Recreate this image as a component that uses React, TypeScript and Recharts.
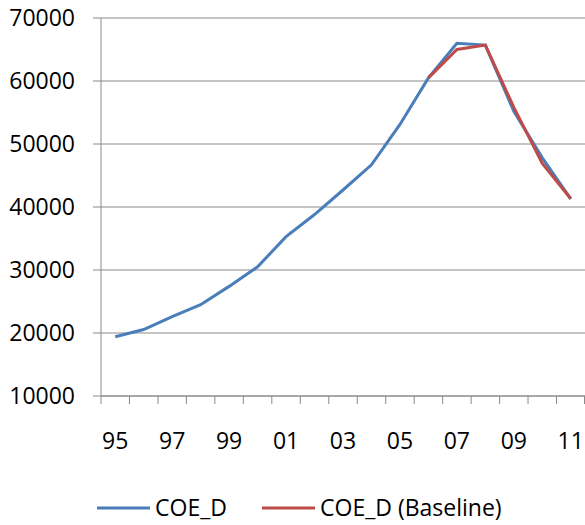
import React from 'react';
import { LineChart, Line, XAxis, YAxis, CartesianGrid, Legend } from 'recharts';

const years = ['95', '96', '97', '98', '99', '00', '01', '02', '03', '04', '05', '06', '07', '08', '09', '10', '11'];
const coeD = [19400, 20550, 22600, 24500, 27400, 30500, 35300, 38800, 42700, 46700, 53100, 60500, 66000, 65700, 55200, 47800, 41300];
const coeDBaseline = [null, null, null, null, null, null, null, null, null, null, null, 60500, 65000, 65700, 55800, 46900, 41300];
const yTicks = [10000, 20000, 30000, 40000, 50000, 60000, 70000];

const data = years.map((y, i) => ({ year: y, coeD: coeD[i], baseline: coeDBaseline[i] }));

const W = 585;
const H = 525;
const Y_AXIS_W = 101;
const GRID = '#8a8a8a';
const BLUE = '#4a7ebb';
const RED = '#be4b48';
const FONT = '"Open Sans", sans-serif';
const FS = 23;

const band = (W - Y_AXIS_W) / years.length;

const XTick = (props: any) => {
  const { x, y, payload, index } = props;
  const left = x - band / 2;
  const right = x + band / 2;
  return (
    <g>
      <line x1={left} y1={y} x2={left} y2={y + 8} stroke={GRID} strokeWidth={1} />
      {index === years.length - 1 && (
        <line x1={right - 0.5} y1={y} x2={right - 0.5} y2={y + 8} stroke={GRID} strokeWidth={1} />
      )}
      {index % 2 === 0 && (
        <text x={x} y={y + 53} textAnchor="middle" fill="#000" fontSize={FS} fontFamily={FONT}>
          {payload.value}
        </text>
      )}
    </g>
  );
};

const LegendContent = () => {
  const items = [
    { label: 'COE_D', color: BLUE, x: 97 },
    { label: 'COE_D (Baseline)', color: RED, x: 262 },
  ];
  return (
    <svg width={W} height={40} style={{ display: 'block' }}>
      {items.map((it) => (
        <g key={it.label}>
          <line x1={it.x} y1={23} x2={it.x + 53} y2={23} stroke={it.color} strokeWidth={3} />
          <text x={it.x + 58} y={31} fill="#000" fontSize={FS} fontFamily={FONT}>
            {it.label}
          </text>
        </g>
      ))}
    </svg>
  );
};

export default function App() {
  return (
    <div style={{ position: 'absolute', left: 0, top: 0, width: W, height: H, background: '#fff' }}>
      <LineChart width={W} height={H} data={data} margin={{ top: 18, right: 0, bottom: 0, left: 0 }}>
        <CartesianGrid vertical={false} stroke={GRID} strokeWidth={1} />
        <XAxis
          dataKey="year"
          scale="band"
          interval={0}
          height={89}
          tickSize={0}
          tickMargin={0}
          axisLine={{ stroke: GRID, strokeWidth: 1 }}
          tickLine={false}
          tick={<XTick />}
        />
        <YAxis
          type="number"
          domain={[10000, 70000]}
          ticks={yTicks}
          width={Y_AXIS_W}
          tickSize={8}
          tickMargin={18}
          axisLine={{ stroke: GRID, strokeWidth: 1 }}
          tickLine={{ stroke: GRID, strokeWidth: 1 }}
          tick={{ fill: '#000', fontSize: FS, fontFamily: FONT }}
          interval={0}
        />
        <Legend verticalAlign="bottom" height={40} content={<LegendContent />} />
        <Line
          dataKey="coeD"
          name="COE_D"
          stroke={BLUE}
          strokeWidth={3}
          dot={false}
          isAnimationActive={false}
        />
        <Line
          dataKey="baseline"
          name="COE_D (Baseline)"
          stroke={RED}
          strokeWidth={3}
          dot={false}
          isAnimationActive={false}
        />
      </LineChart>
    </div>
  );
}
